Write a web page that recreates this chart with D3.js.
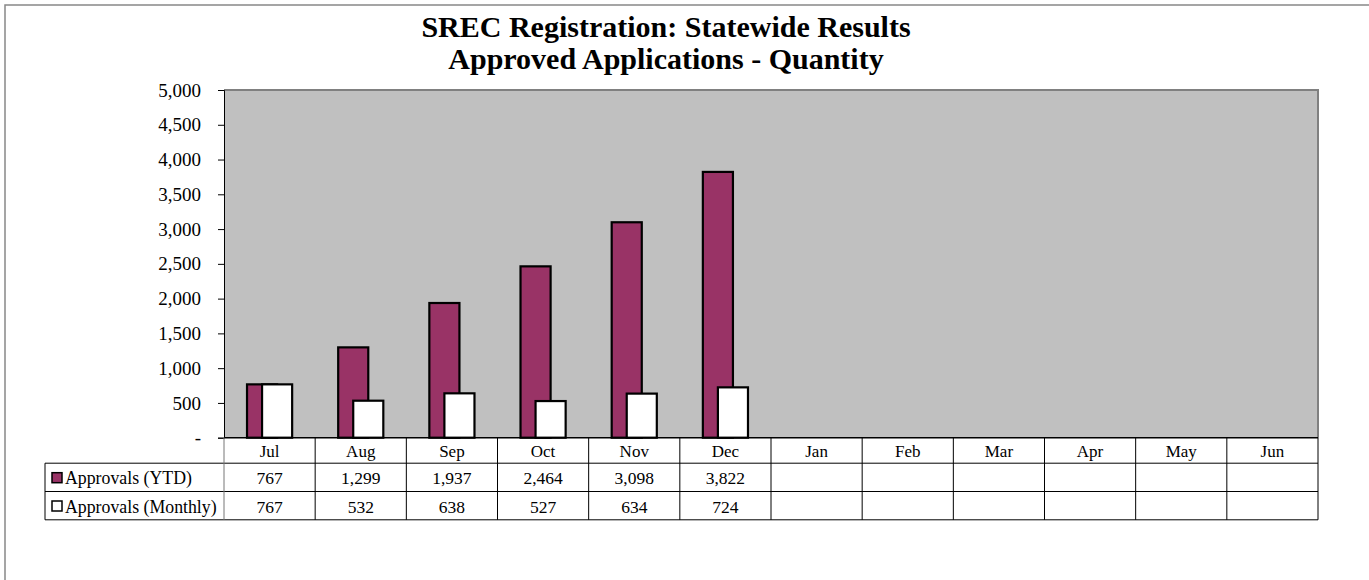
<!DOCTYPE html>
<html lang="en">
<head>
    <meta charset="UTF-8">
    <title>SREC Registration</title>
    <style>
        body { margin: 0; background: #fff; }
        text { font-family: "Liberation Serif", "Times New Roman", serif; fill: #000; }
    </style>
</head>
<body>
    <div class="canvas"></div>

    <script src="https://d3js.org/d3.v7.min.js"></script>
    <script>
        const months = ['Jul', 'Aug', 'Sep', 'Oct', 'Nov', 'Dec', 'Jan', 'Feb', 'Mar', 'Apr', 'May', 'Jun'];
        const ytd = [767, 1299, 1937, 2464, 3098, 3822];
        const monthly = [767, 532, 638, 527, 634, 724];
        const seriesNames = ['Approvals (YTD)', 'Approvals (Monthly)'];
        const yTicks = [0, 500, 1000, 1500, 2000, 2500, 3000, 3500, 4000, 4500, 5000];

        const W = 1369, H = 580;
        const plot = { left: 224, right: 1318, top: 90, bottom: 437.7 };
        const rowH = 28.3;
        const tableLeft = 45;

        const svg = d3.select('.canvas')
            .append('svg')
            .attr('width', W)
            .attr('height', H);

        // outer chart frame
        svg.append('rect')
            .attr('x', 5).attr('y', 5)
            .attr('width', W + 20).attr('height', H + 20)
            .attr('fill', 'none')
            .attr('stroke', '#888')
            .attr('stroke-width', 1.5);

        // title
        const title = svg.append('text')
            .attr('x', 666)
            .attr('text-anchor', 'middle')
            .style('font-size', '30px')
            .style('font-weight', 'bold');
        title.append('tspan').attr('x', 666).attr('y', 37).text('SREC Registration: Statewide Results');
        title.append('tspan').attr('x', 666).attr('y', 69).text('Approved Applications - Quantity');

        const x = d3.scaleBand()
            .domain(months)
            .range([plot.left, plot.right])
            .padding(0);

        const y = d3.scaleLinear()
            .domain([0, 5000])
            .range([plot.bottom, plot.top]);

        // plot area
        svg.append('rect')
            .attr('x', plot.left).attr('y', plot.top)
            .attr('width', plot.right - plot.left)
            .attr('height', plot.bottom - plot.top)
            .attr('fill', '#c0c0c0');
        svg.append('path')
            .attr('d', `M${plot.left},${plot.top}H${plot.right}V${plot.bottom}`)
            .attr('fill', 'none')
            .attr('stroke', '#808080')
            .attr('stroke-width', 2);

        // bars (monthly overlaps the YTD bar by half)
        const barW = x.bandwidth() * 0.33;
        const series = [
            { name: seriesNames[0], values: ytd, fill: '#993366', off: -barW * 0.75 },
            { name: seriesNames[1], values: monthly, fill: '#ffffff', off: -barW * 0.25 }
        ];

        series.forEach(s => {
            svg.append('g')
                .selectAll('rect')
                .data(s.values)
                .enter()
                .append('rect')
                .attr('x', (d, i) => x(months[i]) + x.bandwidth() / 2 + s.off)
                .attr('y', d => y(d))
                .attr('width', barW)
                .attr('height', d => y(0) - y(d))
                .attr('fill', s.fill)
                .attr('stroke', '#000')
                .attr('stroke-width', 2.2);
        });

        // y axis
        const yAxis = d3.axisLeft(y)
            .tickValues(yTicks)
            .tickSize(6)
            .tickPadding(17)
            .tickFormat(d => d === 0 ? '-' : d3.format(',')(d));

        const ya = svg.append('g')
            .attr('transform', `translate(${plot.left},0)`)
            .call(yAxis);
        ya.select('.domain').attr('stroke', '#000');
        ya.selectAll('.tick line').attr('stroke', '#000');
        ya.selectAll('.tick text')
            .style('font-size', '19px')
            .style('font-family', '"Liberation Serif", serif');

        // bottom axis line
        svg.append('line')
            .attr('x1', plot.left).attr('x2', plot.right)
            .attr('y1', plot.bottom).attr('y2', plot.bottom)
            .attr('stroke', '#000').attr('stroke-width', 1.5);

        // data table
        const table = svg.append('g');
        const r1 = plot.bottom + 25.5;
        const r2 = r1 + rowH;
        const r3 = r2 + rowH;

        [r1, r2, r3].forEach(yy => {
            table.append('line')
                .attr('x1', tableLeft).attr('x2', plot.right)
                .attr('y1', yy).attr('y2', yy)
                .attr('stroke', '#000').attr('stroke-width', 1);
        });
        table.append('line')
            .attr('x1', tableLeft).attr('x2', tableLeft)
            .attr('y1', r1).attr('y2', r3)
            .attr('stroke', '#000');
        months.concat(['end']).forEach((m, i) => {
            const xx = plot.left + i * x.bandwidth();
            table.append('line')
                .attr('x1', xx).attr('x2', xx)
                .attr('y1', plot.bottom).attr('y2', r3)
                .attr('stroke', i === 0 ? '#777' : '#000');
        });

        table.selectAll('text.month')
            .data(months)
            .enter()
            .append('text')
            .attr('class', 'month')
            .attr('x', d => x(d) + x.bandwidth() / 2)
            .attr('y', plot.bottom + 19)
            .attr('text-anchor', 'middle')
            .style('font-size', '17px')
            .text(d => d);

        series.forEach((s, k) => {
            const rowTop = k === 0 ? r1 : r2;
            table.selectAll(`text.val${k}`)
                .data(s.values)
                .enter()
                .append('text')
                .attr('class', `val${k}`)
                .attr('x', (d, i) => x(months[i]) + x.bandwidth() / 2)
                .attr('y', rowTop + 21)
                .attr('text-anchor', 'middle')
                .style('font-size', '17.5px')
                .text(d => d3.format(',')(d));

            table.append('rect')
                .attr('x', 52).attr('y', rowTop + 9.5)
                .attr('width', 10).attr('height', 10)
                .attr('fill', s.fill)
                .attr('stroke', '#000')
                .attr('stroke-width', 1.5);
            table.append('text')
                .attr('x', 65).attr('y', rowTop + 21)
                .style('font-size', '17.8px')
                .text(s.name);
        });
    </script>
</body>
</html>
